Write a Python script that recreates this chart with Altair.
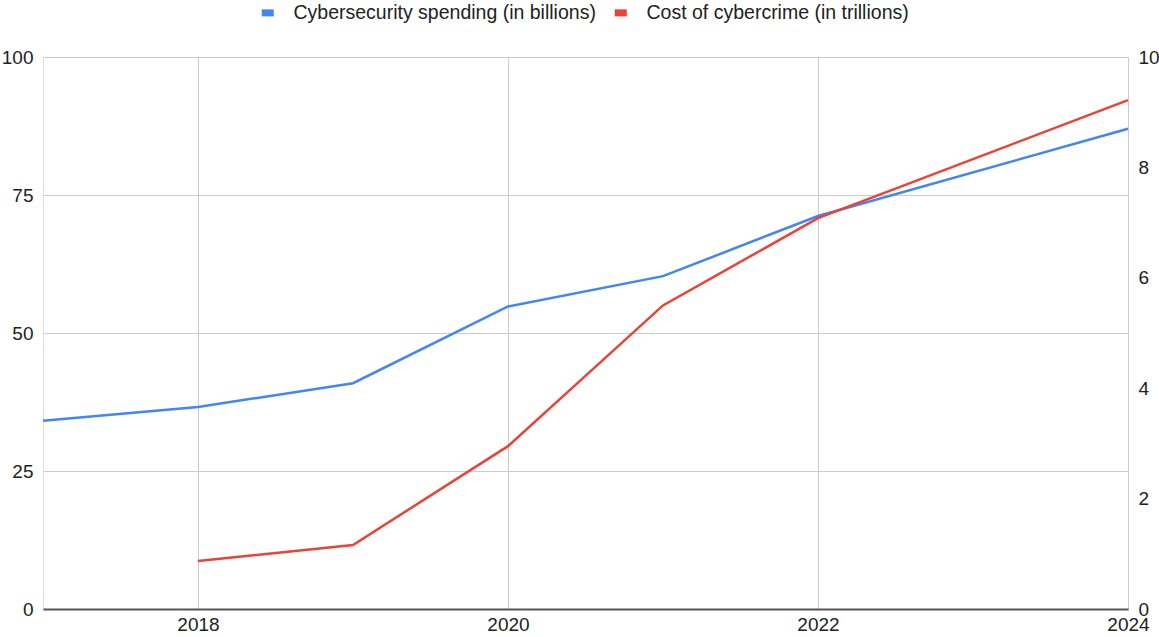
import altair as alt
import pandas as pd

years = [2017, 2018, 2019, 2020, 2021, 2022, 2024]
spending = [34.1, 36.6, 40.9, 54.8, 60.3, 71.2, 87.0]
cost = [None, 0.87, 1.16, 2.95, 5.5, 7.08, 9.22]
series_names = ["Cybersecurity spending (in billions)", "Cost of cybercrime (in trillions)"]
series_colors = ["#4285F4", "#EA4335"]
x_ticks = [2018, 2020, 2022, 2024]
left_ticks = [0, 25, 50, 75, 100]
right_ticks = [0, 2, 4, 6, 8, 10]

rows = []
for y, v in zip(years, spending):
    rows.append({"year": y, "series": series_names[0], "spend": v, "cost": None})
for y, v in zip(years, cost):
    if v is not None:
        rows.append({"year": y, "series": series_names[1], "spend": None, "cost": v})
df = pd.DataFrame(rows)

FONT = "Liberation Sans"
FS = 19

color = alt.Color(
    "series:N",
    scale=alt.Scale(domain=series_names, range=series_colors),
    legend=alt.Legend(
        title=None, orient="none", direction="horizontal",
        legendX=215, legendY=-54,
        symbolType="stroke", symbolSize=144, symbolStrokeWidth=7,
        labelFont=FONT, labelFontSize=19.5, labelColor="#222", labelLimit=500,
        labelOffset=16, columnPadding=4,
    ),
)

x = alt.X(
    "year:Q",
    scale=alt.Scale(domain=[2017, 2024], nice=False, zero=False),
    axis=alt.Axis(
        title=None, values=x_ticks, format="d", grid=True, gridColor="#cccccc",
        ticks=False, domainColor="#555555", domainWidth=2, labelPadding=6,
        labelFont=FONT, labelFontSize=FS, labelColor="#222", labelFlush=False,
    ),
)

blue = alt.Chart(df).transform_filter(
    alt.datum.series == series_names[0]
).mark_line(strokeWidth=2.5).encode(
    x=x,
    y=alt.Y(
        "spend:Q",
        scale=alt.Scale(domain=[0, 100], nice=False),
        axis=alt.Axis(
            title=None, values=left_ticks, grid=True, gridColor="#cccccc",
            domain=False, ticks=False, labelPadding=10,
            labelFont=FONT, labelFontSize=FS, labelColor="#222",
        ),
    ),
    color=color,
)

red = alt.Chart(df).transform_filter(
    alt.datum.series == series_names[1]
).mark_line(strokeWidth=2.5).encode(
    x=x,
    y=alt.Y(
        "cost:Q",
        scale=alt.Scale(domain=[0, 10], nice=False),
        axis=alt.Axis(
            title=None, orient="right", values=right_ticks, grid=False,
            domain=False, ticks=False, labelPadding=10,
            labelFont=FONT, labelFontSize=FS, labelColor="#222",
        ),
    ),
    color=color,
)

chart = alt.layer(blue, red).resolve_scale(y="independent").properties(
    width=1085, height=552,
    autosize=alt.AutoSizeParams(type="none"),
    padding={"left": 43, "top": 57, "right": 31, "bottom": 28},
).configure_view(stroke=None).configure(background="white")

chart.save("out.html", embed_options={"renderer": "svg", "actions": False})
